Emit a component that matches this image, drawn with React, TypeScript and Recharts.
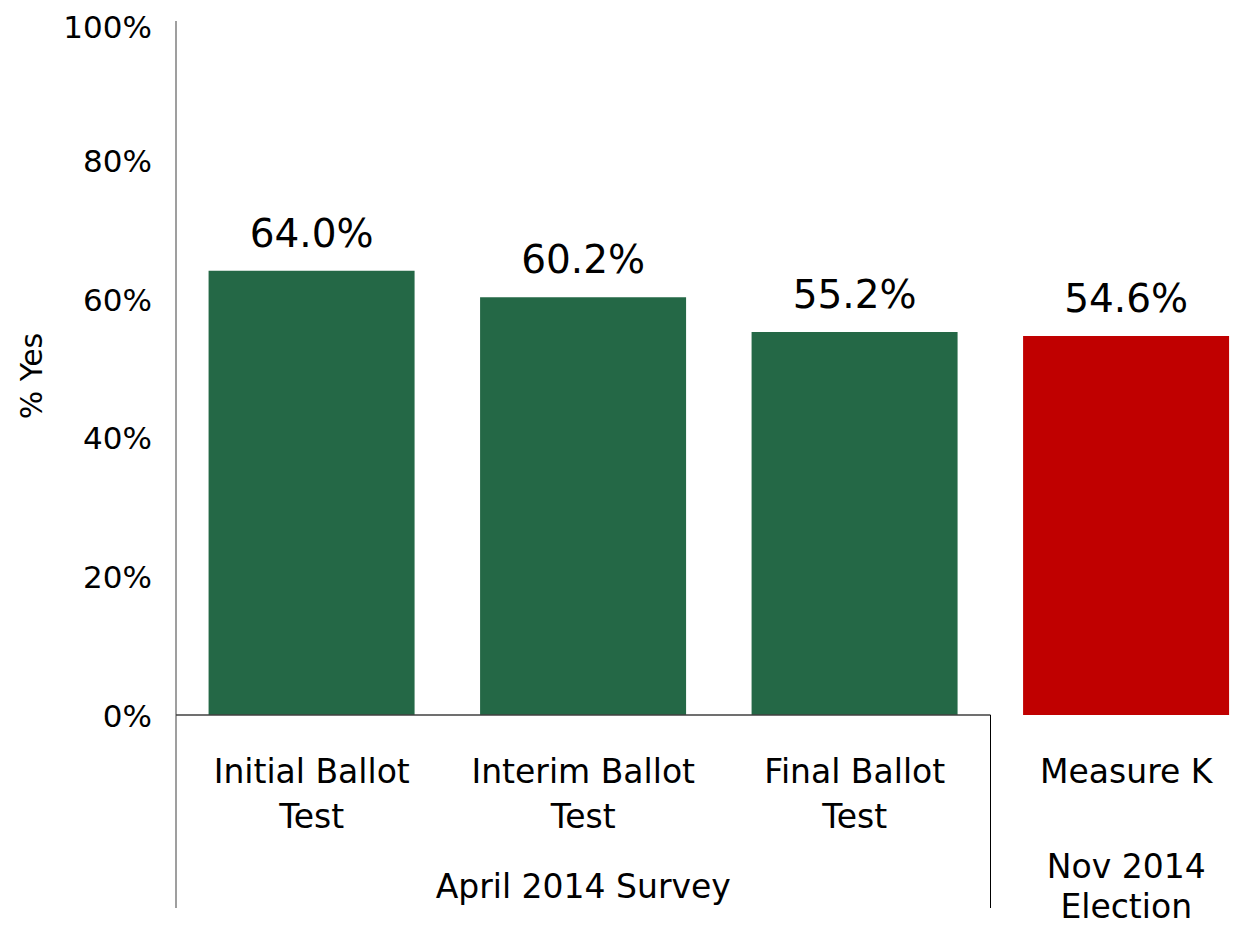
import { BarChart, Bar, XAxis, YAxis, Cell, LabelList } from 'recharts';

// categories, split into the two lines they are printed on
const categories = ['Initial Ballot Test', 'Interim Ballot Test', 'Final Ballot Test', 'Measure K'];
const categoryLines = [['Initial Ballot', 'Test'], ['Interim Ballot', 'Test'], ['Final Ballot', 'Test'], ['Measure K']];
const yesShare = [64.0, 60.2, 55.2, 54.6];
const groups = ['April 2014 Survey', 'April 2014 Survey', 'April 2014 Survey', 'Nov 2014 Election'];
const groupLines: Record<string, string[]> = {
  'April 2014 Survey': ['April 2014 Survey'],
  'Nov 2014 Election': ['Nov 2014', 'Election'],
};
const yTicks = [0, 20, 40, 60, 80, 100];

const data = categories.map((name, i) => ({ name, yes: yesShare[i], group: groups[i] }));

const FONT = '"DejaVu Sans", sans-serif';
const CHART_W = 1254;
const CHART_H = 919;
const MARGIN = { top: 13, right: 0, bottom: 0, left: 18 };
const Y_AXIS_W = 150;
const X_AXIS_H = 212;
const BAND = (CHART_W - MARGIN.left - MARGIN.right - Y_AXIS_W) / categories.length;

const groupColor: Record<string, string> = {
  'April 2014 Survey': '#246846',
  'Nov 2014 Election': '#C00000',
};
// groups that get an outline (axis line + separators) under them
const boxedGroups = ['April 2014 Survey'];

const CategoryTick = (props: any) => {
  const { x, y, payload } = props;
  const i = categories.indexOf(payload.value);
  const half = BAND / 2;
  const g = groups[i];
  const first = groups.indexOf(g);
  const last = groups.lastIndexOf(g);
  const boxed = boxedGroups.includes(g);
  const lines = categoryLines[i];
  const gLines = groupLines[g];
  const groupCenter = x - (last - first) * half;
  // baselines: single line ~183 below the axis, two lines at 167 / 207
  const gStart = 187 - ((gLines.length - 1) * 40) / 2 - 4;

  return (
    <g>
      <text x={x} y={y} textAnchor="middle" fontSize={33} fontFamily={FONT} fill="#000">
        {lines.map((l, k) => (
          <tspan key={k} x={x} y={y + 68 + k * 45}>{l}</tspan>
        ))}
      </text>
      {boxed && i === first && (
        <line x1={x - half} x2={x - half} y1={y} y2={y + 193} stroke="#7f7f7f" strokeWidth={1.5} />
      )}
      {i === last && (
        <>
          {boxed && (
            <>
              <line x1={x - half - (last - first) * BAND} x2={x + half} y1={y} y2={y} stroke="#404040" strokeWidth={1.5} />
              <line x1={x + half} x2={x + half} y1={y} y2={y + 193} stroke="#000" strokeWidth={1} />
            </>
          )}
          <text textAnchor="middle" fontSize={33} fontFamily={FONT} fill="#000">
            {gLines.map((l, k) => (
              <tspan key={k} x={groupCenter} y={y + gStart + k * 40}>{l}</tspan>
            ))}
          </text>
        </>
      )}
    </g>
  );
};

const YLabel = (props: any) => {
  const { viewBox } = props;
  const cx = viewBox.x + 5;
  const cy = viewBox.y + viewBox.height / 2 + 8;
  return (
    <text
      x={cx}
      y={cy}
      transform={`rotate(-90, ${cx}, ${cy})`}
      textAnchor="middle"
      dominantBaseline="central"
      fontSize={30}
      fontFamily={FONT}
      fill="#000"
    >
      % Yes
    </text>
  );
};

export default function App() {
  return (
    <div style={{ width: 1239, height: 919, marginBottom: -8, overflow: 'hidden', fontFamily: FONT }}>
      <BarChart width={CHART_W} height={CHART_H} data={data} margin={MARGIN} barCategoryGap="12%">
        <XAxis
          dataKey="name"
          height={X_AXIS_H}
          axisLine={false}
          tickLine={false}
          tickSize={0}
          tickMargin={0}
          interval={0}
          tick={<CategoryTick />}
        />
        <YAxis
          width={Y_AXIS_W}
          domain={[0, 100]}
          ticks={yTicks}
          tickFormatter={(v) => `${v}%`}
          axisLine={{ stroke: '#7f7f7f', strokeWidth: 1.5 }}
          tickLine={false}
          tickSize={0}
          tickMargin={24}
          tick={{ fontSize: 31, fill: '#000', fontFamily: FONT, dy: 1 }}
          label={<YLabel />}
        />
        <Bar dataKey="yes" isAnimationActive={false}>
          {data.map((d, i) => (
            <Cell key={i} fill={groupColor[d.group]} />
          ))}
          <LabelList
            dataKey="yes"
            position="top"
            offset={24}
            formatter={(v: any) => `${Number(v).toFixed(1)}%`}
            style={{ fontSize: 39, fill: '#000', fontFamily: FONT }}
          />
        </Bar>
      </BarChart>
    </div>
  );
}
